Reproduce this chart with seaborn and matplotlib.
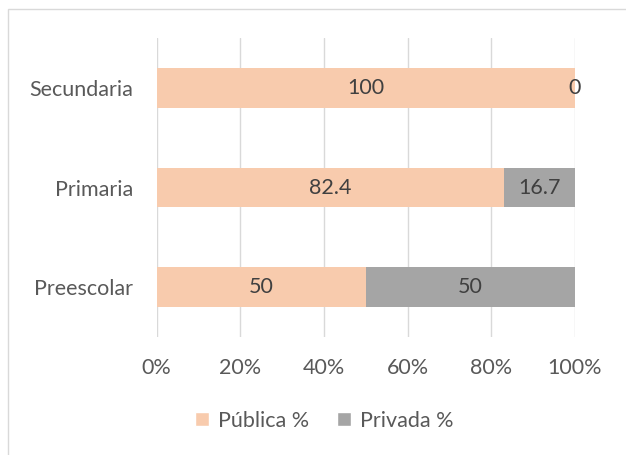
import matplotlib
matplotlib.use("Agg")
import matplotlib.pyplot as plt
import seaborn as sns
import pandas as pd
from matplotlib.patches import Patch, Rectangle

# data
niveles = ["Secundaria", "Primaria", "Preescolar"]
publica = [100, 82.4, 50]
privada = [0, 16.7, 50]

PEACH = "#F8CBAD"
GRAY = "#A5A5A5"
TXT = "#595959"
FS = 15.5

df = pd.DataFrame({"nivel": niveles, "publica": publica, "privada": privada})
df["total"] = df["publica"] + df["privada"]
df["pub_pct"] = df["publica"] / df["total"] * 100
df["full"] = 100.0

sns.set_style("white")
plt.rcParams["font.family"] = ["Lato", "DejaVu Sans"]

fig = plt.figure(figsize=(6.26, 4.55), dpi=100)
ax = fig.add_axes([0.25, 0.2593, 0.6685, 0.657])

# privada fills the whole 100%, publica is drawn over it
sns.barplot(data=df, x="full", y="nivel", orient="h", color=GRAY, width=0.4,
            saturation=1, linewidth=0, ax=ax, zorder=2)
sns.barplot(data=df, x="pub_pct", y="nivel", orient="h", color=PEACH, width=0.4,
            saturation=1, linewidth=0, ax=ax, zorder=3)

# data labels
for i, row in df.iterrows():
    ax.text(row["pub_pct"] / 2, i, f"{row['publica']:g}", ha="center", va="center",
            fontsize=FS, color="#404040", zorder=5)
    ax.text(row["pub_pct"] + (100 - row["pub_pct"]) / 2, i, f"{row['privada']:g}",
            ha="center", va="center", fontsize=FS, color="#404040", zorder=5)

ax.set_xlim(0, 100)
ax.set_ylim(2.5, -0.5)
ax.set_xticks([0, 20, 40, 60, 80, 100])
ax.set_xticklabels([f"{t}%" for t in [0, 20, 40, 60, 80, 100]])
ax.xaxis.grid(True, color="#D9D9D9", linewidth=1, zorder=0)
ax.set_axisbelow(True)
ax.set_xlabel("")
ax.set_ylabel("")
for s in ax.spines.values():
    s.set_visible(False)
ax.tick_params(axis="both", length=0, labelsize=FS, labelcolor=TXT)
ax.tick_params(axis="x", pad=15)
ax.tick_params(axis="y", pad=17)

handles = [Patch(facecolor=PEACH, label="Pública %"), Patch(facecolor=GRAY, label="Privada %")]
fig.legend(handles=handles, loc="center", bbox_to_anchor=(0.518, 0.075), ncol=2,
           frameon=False, fontsize=FS, labelcolor=TXT, handlelength=0.65,
           handleheight=0.65, handletextpad=0.4, columnspacing=1.3)

# chart area border (cropped at right/bottom)
fig.patches.append(Rectangle((8 / 626, -0.1), 1.2, 1.1 - 9 / 455, transform=fig.transFigure,
                             fill=False, edgecolor="#D9D9D9", linewidth=1))

fig.savefig("out.png", dpi=100)
